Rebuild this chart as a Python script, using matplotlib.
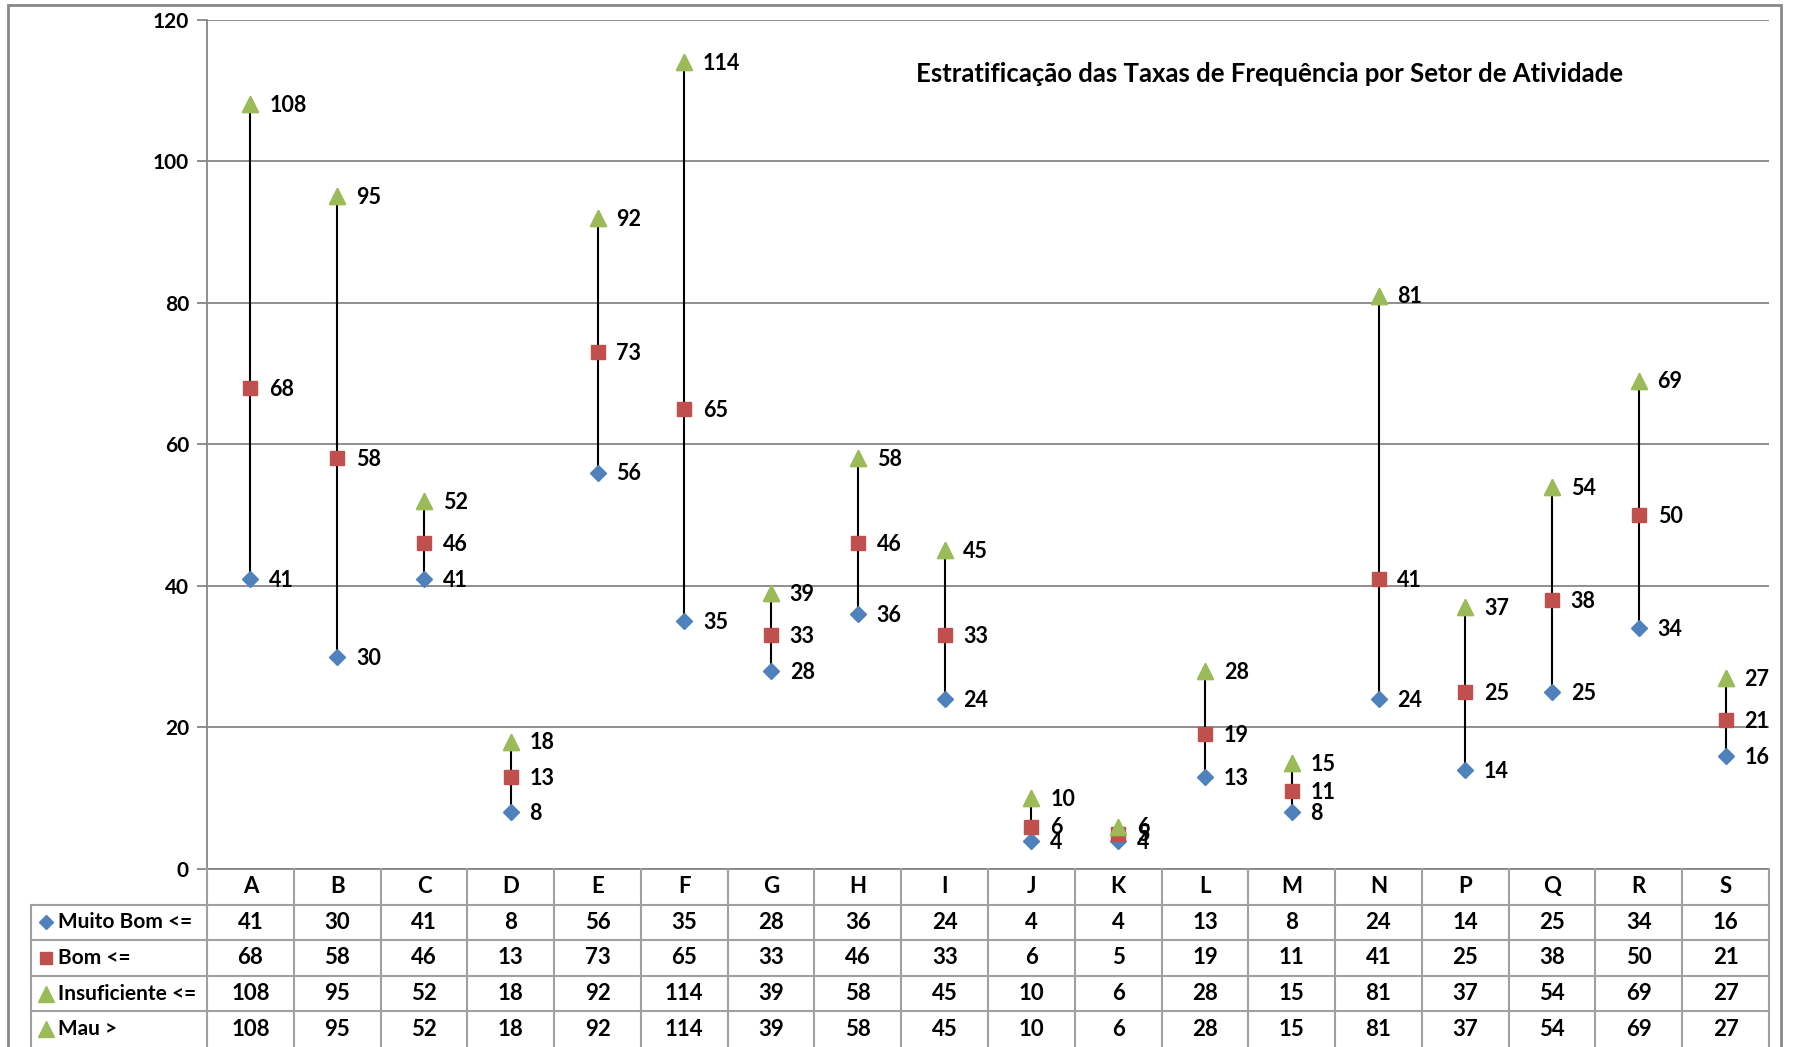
import matplotlib.pyplot as plt
from matplotlib.patches import Rectangle

plt.rcParams['font.family'] = ['Lato', 'DejaVu Sans']
plt.rcParams['font.weight'] = 'bold'

categories = ["A", "B", "C", "D", "E", "F", "G", "H", "I", "J", "K", "L", "M", "N", "P", "Q", "R", "S"]
muito_bom = [41, 30, 41, 8, 56, 35, 28, 36, 24, 4, 4, 13, 8, 24, 14, 25, 34, 16]
bom = [68, 58, 46, 13, 73, 65, 33, 46, 33, 6, 5, 19, 11, 41, 25, 38, 50, 21]
insuficiente = [108, 95, 52, 18, 92, 114, 39, 58, 45, 10, 6, 28, 15, 81, 37, 54, 69, 27]
mau = [108, 95, 52, 18, 92, 114, 39, 58, 45, 10, 6, 28, 15, 81, 37, 54, 69, 27]
series_names = ["Muito Bom <=", "Bom <=", "Insuficiente <=", "Mau >"]
title = "Estratificação das Taxas de Frequência por Setor de Atividade"

blue, red, green = "#4F81BD", "#C0504D", "#9BBB59"
grey = "#868686"

W, H = 1793, 1047
fig = plt.figure(figsize=(W / 100, H / 100), dpi=100)
x0, x1, ytop, ybot = 207, 1769, 19.5, 869
ax = fig.add_axes([x0 / W, 1 - ybot / H, (x1 - x0) / W, (ybot - ytop) / H])
tax = fig.add_axes([x0 / W, 0, (x1 - x0) / W, (H - ybot) / H])

x = list(range(len(categories)))
ax.set_xlim(-0.5, len(categories) - 0.5)
ax.set_ylim(0, 120)
ax.set_yticks(range(0, 121, 20))
ax.set_xticks([])
ax.yaxis.grid(True, color=grey, lw=1.3)
ax.set_axisbelow(True)
for s in ["top", "right"]:
    ax.spines[s].set_visible(False)
for s in ["left", "bottom"]:
    ax.spines[s].set_color(grey)
    ax.spines[s].set_linewidth(1.3)
ax.tick_params(axis="y", length=7, color=grey, width=1.3, labelsize=15, pad=6)

# high-low lines
ax.vlines(x, muito_bom, mau, color="black", lw=1.5, zorder=2)
ax.plot(x, muito_bom, "D", color=blue, ms=8, ls="none", zorder=3)
ax.plot(x, bom, "s", color=red, ms=9.5, ls="none", zorder=3)
ax.plot(x, insuficiente, "^", color=green, ms=11, ls="none", zorder=3)
ax.plot(x, mau, "^", color=green, ms=11, ls="none", zorder=3)

for vals in (muito_bom, bom, insuficiente):
    for xi, v in zip(x, vals):
        ax.annotate(str(v), (xi, v), xytext=(13.5, -1), textcoords="offset points",
                    ha="left", va="center", fontsize=15.5, fontweight="bold")

fig.text(1269 / W, 1 - 74 / H, title, ha="center", va="center", fontsize=18.5, fontweight="bold")

# data table
n = len(categories)
colw = (x1 - x0) / n
lab_left = -0.5 - (x0 - 31) / colw
tax.set_xlim(-0.5, n - 0.5)
tax.set_ylim(5, 0)
tax.axis("off")
lc = "#A0A0A0"
for k in range(n + 1):
    tax.plot([-0.5 + k, -0.5 + k], [0, 5], color=lc, lw=1.5, clip_on=False)
tax.plot([lab_left, lab_left], [1, 5], color=lc, lw=1.5, clip_on=False)
for r in range(1, 5):
    tax.plot([lab_left, n - 0.5], [r, r], color=lc, lw=1.5, clip_on=False)
for xi, c in zip(x, categories):
    tax.text(xi, 0.5, c, ha="center", va="center", fontsize=16, fontweight="bold")
markers = [("D", blue, 7), ("s", red, 9), ("^", green, 11), ("^", green, 11)]
mx = -0.5 - (x0 - 46) / colw
tx = -0.5 - (x0 - 58) / colw
for r, (name, vals, (m, c, ms)) in enumerate(zip(series_names, [muito_bom, bom, insuficiente, mau], markers), start=1):
    tax.plot([mx], [r + 0.5], m, color=c, ms=ms, clip_on=False)
    tax.text(tx, r + 0.5, name, ha="left", va="center", fontsize=15, fontweight="bold", clip_on=False)
    for xi, v in zip(x, vals):
        tax.text(xi, r + 0.5, str(v), ha="center", va="center", fontsize=16, fontweight="bold")

# outer chart frame
fig.add_artist(Rectangle((8 / W, -0.02), (1781 - 8) / W, 1.02 - 5 / H, transform=fig.transFigure,
                         fill=False, ec="#888888", lw=2))

fig.savefig("out.png", dpi=100)
